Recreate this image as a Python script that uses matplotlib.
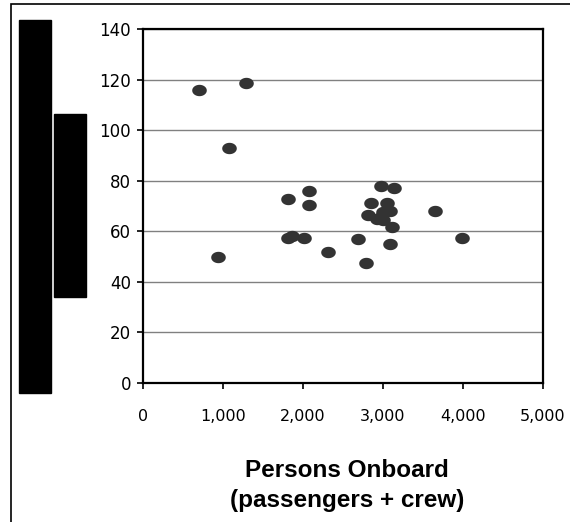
import numpy as np
import matplotlib
matplotlib.use("Agg")
import matplotlib.pyplot as plt
from matplotlib.path import Path
from matplotlib.patches import Rectangle

# data
persons = [700, 1290, 1075, 940, 1808, 2079, 2079, 1817, 1858, 2014,
           2318, 2690, 2791, 2979, 3143, 2850, 3046, 2816, 2921, 3004,
           3087, 2971, 3004, 3110, 3091, 3654, 3991]
values = [116.0, 118.5, 92.9, 49.9, 72.8, 75.8, 70.3, 57.3, 58.2, 57.5,
          51.7, 56.8, 47.3, 78.0, 77.3, 71.0, 71.2, 66.4, 65.0, 67.8,
          67.9, 65.5, 64.5, 61.8, 55.1, 68.0, 57.5]
xticks = [0, 1000, 2000, 3000, 4000, 5000]
yticks = [0, 20, 40, 60, 80, 100, 120, 140]
xlabel_lines = ["Persons Onboard", "(passengers + crew)"]

# oval marker like the spreadsheet one (wider than tall)
t = np.linspace(0, 2 * np.pi, 60)
oval = Path(np.column_stack([np.cos(t), 0.78 * np.sin(t)]), closed=True)

W, H = 570, 522
fig = plt.figure(figsize=(W / 100, H / 100), dpi=100)
ax = fig.add_axes([143 / W, 1 - 383 / H, 400 / W, 354 / H])

ax.plot(persons, values, linestyle="none", marker=oval, markersize=10.5,
        color="#333333", markeredgewidth=0, zorder=3)

ax.set_xlim(0, 5000)
ax.set_ylim(0, 140)
ax.set_xticks(xticks)
ax.set_yticks(yticks)
ax.set_xticklabels([f"{v:,}" for v in xticks], fontsize=11.5)
ax.set_yticklabels([str(v) for v in yticks], fontsize=12)
ax.tick_params(direction="out", length=4.5, width=1.2, color="black")
ax.tick_params(axis="x", pad=14)
ax.tick_params(axis="y", pad=4)
ax.yaxis.grid(True, color="#808080", linewidth=1)
ax.set_axisbelow(True)
for s in ax.spines.values():
    s.set_linewidth(1.6)
    s.set_color("black")

# axis title, two lines
for txt, yb in zip(xlabel_lines, [477, 507]):
    fig.text(347 / W, 1 - yb / H, txt, ha="center", va="baseline",
             fontsize=17.5, fontweight="bold", family="Liberation Sans")

# outer frame (left and top edges visible)
fig.patches.append(Rectangle((11 / W, -0.1), 1.2, 1 - 4 / H + 0.1,
                             transform=fig.transFigure, fill=False,
                             edgecolor="black", linewidth=1.2))
# redaction boxes
fig.patches.append(Rectangle((19 / W, 1 - 393 / H), 32 / W, 373 / H,
                             transform=fig.transFigure, color="black", zorder=10))
fig.patches.append(Rectangle((54 / W, 1 - 297 / H), 32 / W, 183 / H,
                             transform=fig.transFigure, color="black", zorder=10))

fig.savefig("out.png", dpi=100)
